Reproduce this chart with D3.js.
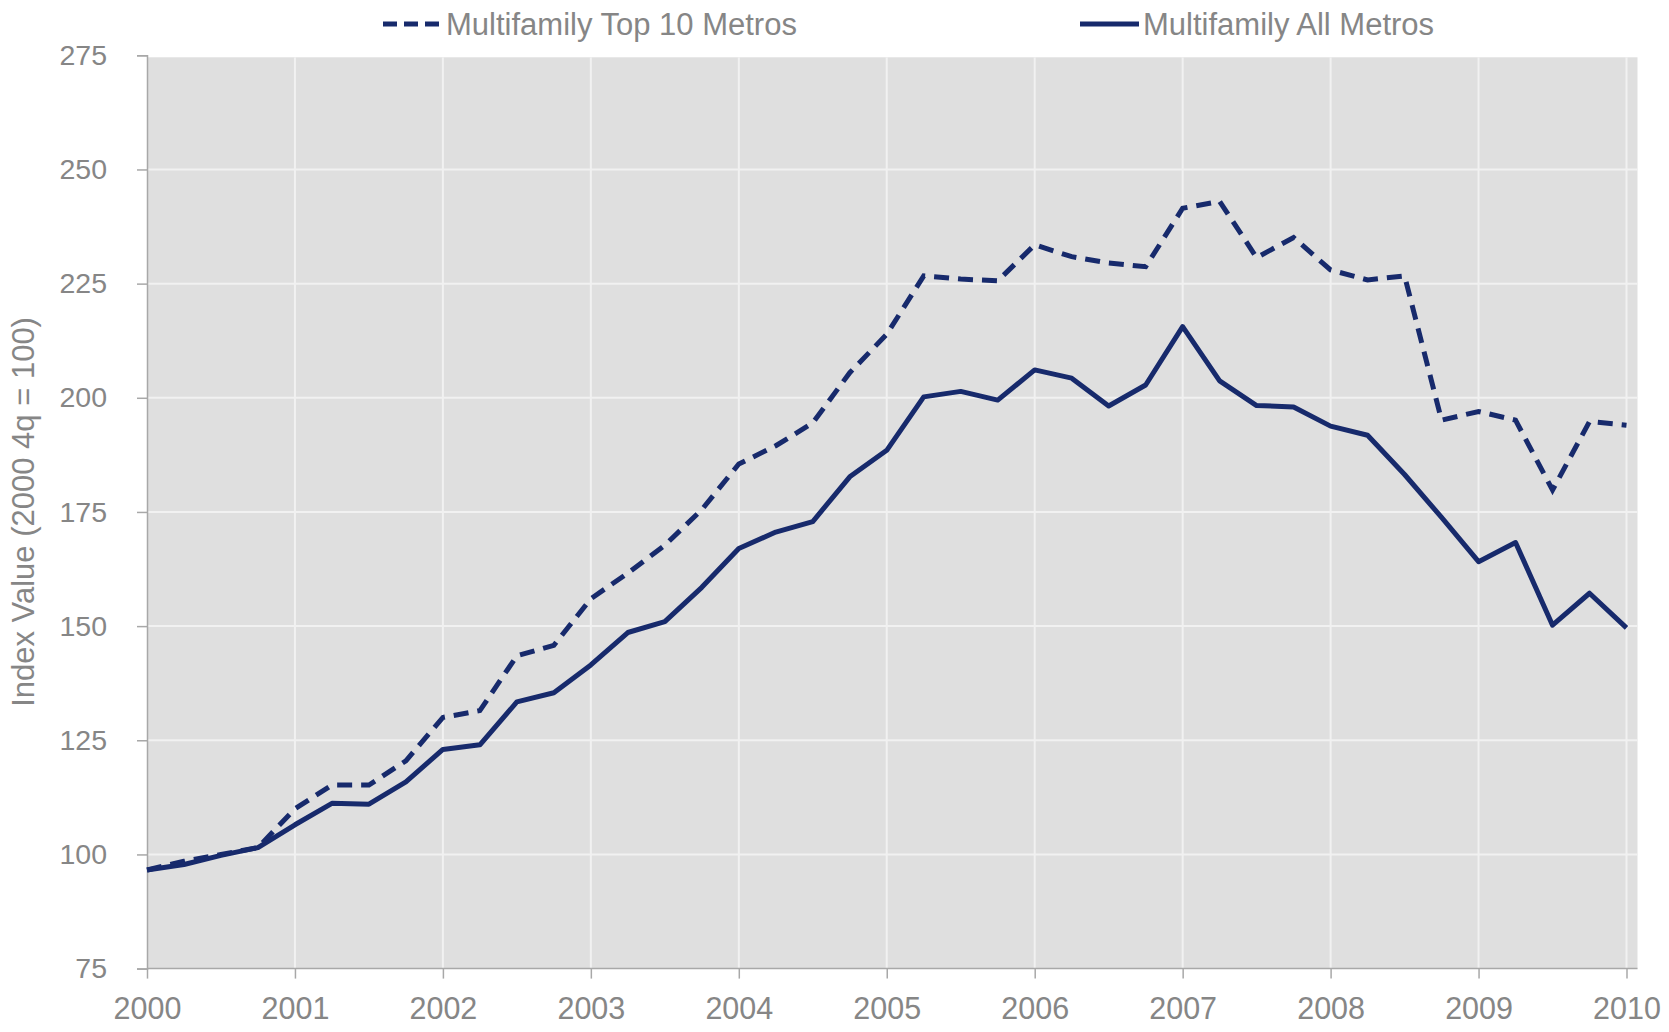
<!DOCTYPE html>
<html>
<head>
<meta charset="utf-8">
<script src="https://cdn.jsdelivr.net/npm/d3@7"></script>
<style>
  body { margin: 0; background: #fff; }
  svg text { font-family: "Liberation Sans", Arial, sans-serif; fill: #868686; }
</style>
</head>
<body>
<div id="chart"></div>
<script>
const width = 1669;
const height = 1032;

// quarterly observations, 2000 to 2010
const quarters = [
  2000.00, 2000.25, 2000.50, 2000.75, 2001.00, 2001.25, 2001.50, 2001.75,
  2002.00, 2002.25, 2002.50, 2002.75, 2003.00, 2003.25, 2003.50, 2003.75,
  2004.00, 2004.25, 2004.50, 2004.75, 2005.00, 2005.25, 2005.50, 2005.75,
  2006.00, 2006.25, 2006.50, 2006.75, 2007.00, 2007.25, 2007.50, 2007.75,
  2008.00, 2008.25, 2008.50, 2008.75, 2009.00, 2009.25, 2009.50, 2009.75,
  2010.00
];
const top10Metros = [
  96.6, 98.5, 100.0, 101.5, 110.0, 115.2, 115.2, 120.5,
  130.0, 131.5, 143.5, 145.8, 156.0, 161.6, 167.7, 175.5,
  185.5, 189.5, 194.5, 205.5, 213.9, 226.7, 226.0, 225.6,
  233.5, 230.9, 229.5, 228.7, 241.5, 243.0, 230.7, 235.1,
  228.0, 225.8, 226.7, 195.1, 197.0, 195.1, 179.8, 194.8,
  194.0
];
const allMetros = [
  96.6, 97.8, 99.8, 101.5, 106.5, 111.2, 111.0, 115.9,
  123.0, 124.0, 133.4, 135.4, 141.5, 148.6, 151.0, 158.5,
  167.0, 170.6, 172.9, 182.7, 188.5, 200.2, 201.4, 199.5,
  206.1, 204.3, 198.2, 202.8, 215.6, 203.7, 198.3, 198.0,
  193.8, 191.8, 183.2, 173.8, 164.1, 168.3, 150.2, 157.2,
  149.6
];
const yearTicks = [2000, 2001, 2002, 2003, 2004, 2005, 2006, 2007, 2008, 2009, 2010];
const valueTicks = [75, 100, 125, 150, 175, 200, 225, 250, 275];
const seriesNames = ['Multifamily Top 10 Metros', 'Multifamily All Metros'];

const navy = '#172a6c';

const svg = d3.select('#chart').append('svg')
  .attr('width', width)
  .attr('height', height);

const x = d3.scaleLinear().domain([2000, 2010]).range([147, 1626.5]);
const y = d3.scaleLinear().domain([75, 275]).range([968.6, 55.3]);

// plot background
svg.append('rect')
  .attr('x', x(2000))
  .attr('y', y(275) + 2)
  .attr('width', x(2010) - x(2000) + 11)
  .attr('height', y(75) - y(275) - 2)
  .attr('fill', '#dfdfdf');

// gridlines
svg.append('g').selectAll('line')
  .data(valueTicks.slice(1, -1))
  .join('line')
  .attr('x1', x(2000)).attr('x2', x(2010) + 11)
  .attr('y1', d => y(d)).attr('y2', d => y(d))
  .attr('stroke', '#f1f1f1').attr('stroke-width', 2);

svg.append('g').selectAll('line')
  .data(yearTicks.slice(1))
  .join('line')
  .attr('x1', d => x(d)).attr('x2', d => x(d))
  .attr('y1', y(275) + 2).attr('y2', y(75))
  .attr('stroke', '#f1f1f1').attr('stroke-width', 2);

// axes
const yAxis = d3.axisLeft(y).tickValues(valueTicks).tickSize(10).tickPadding(30);
const gy = svg.append('g').attr('transform', `translate(${x(2000)},0)`).call(yAxis);
gy.selectAll('text').style('font-size', '28.5px');

const xAxis = d3.axisBottom(x).tickValues(yearTicks).tickFormat(d3.format('d')).tickSize(10).tickPadding(19);
const gx = svg.append('g').attr('transform', `translate(0,${y(75)})`).call(xAxis);
gx.selectAll('text').style('font-size', '30.5px');
gx.select('.domain').attr('d', `M${x(2000)},0H${x(2010) + 11}`);

svg.selectAll('.domain, .tick line').attr('stroke', '#a8a8a8').attr('stroke-width', 1.5);

// y title
svg.append('text')
  .attr('transform', `translate(34,${(y(75) + y(275)) / 2}) rotate(-90)`)
  .attr('text-anchor', 'middle')
  .style('font-size', '31px')
  .text('Index Value (2000 4q = 100)');

// lines
const line = d3.line()
  .x((d, i) => x(quarters[i]))
  .y(d => y(d));

svg.append('path')
  .datum(allMetros)
  .attr('d', line)
  .attr('fill', 'none')
  .attr('stroke', navy)
  .attr('stroke-width', 5)
  .attr('stroke-linejoin', 'round');

svg.append('path')
  .datum(top10Metros)
  .attr('d', line)
  .attr('fill', 'none')
  .attr('stroke', navy)
  .attr('stroke-width', 5)
  .attr('stroke-dasharray', '15,9');

// legend
const legend = svg.append('g').attr('class', 'legend');
const legendItems = [
  {name: seriesNames[0], x0: 383, dash: '14,7'},
  {name: seriesNames[1], x0: 1080, dash: null}
];
legendItems.forEach(it => {
  legend.append('line')
    .attr('x1', it.x0).attr('x2', it.x0 + 59)
    .attr('y1', 24).attr('y2', 24)
    .attr('stroke', navy).attr('stroke-width', 5)
    .attr('stroke-dasharray', it.dash);
  legend.append('text')
    .attr('x', it.x0 + 63).attr('y', 35)
    .style('font-size', '31px')
    .text(it.name);
});
</script>
</body>
</html>
